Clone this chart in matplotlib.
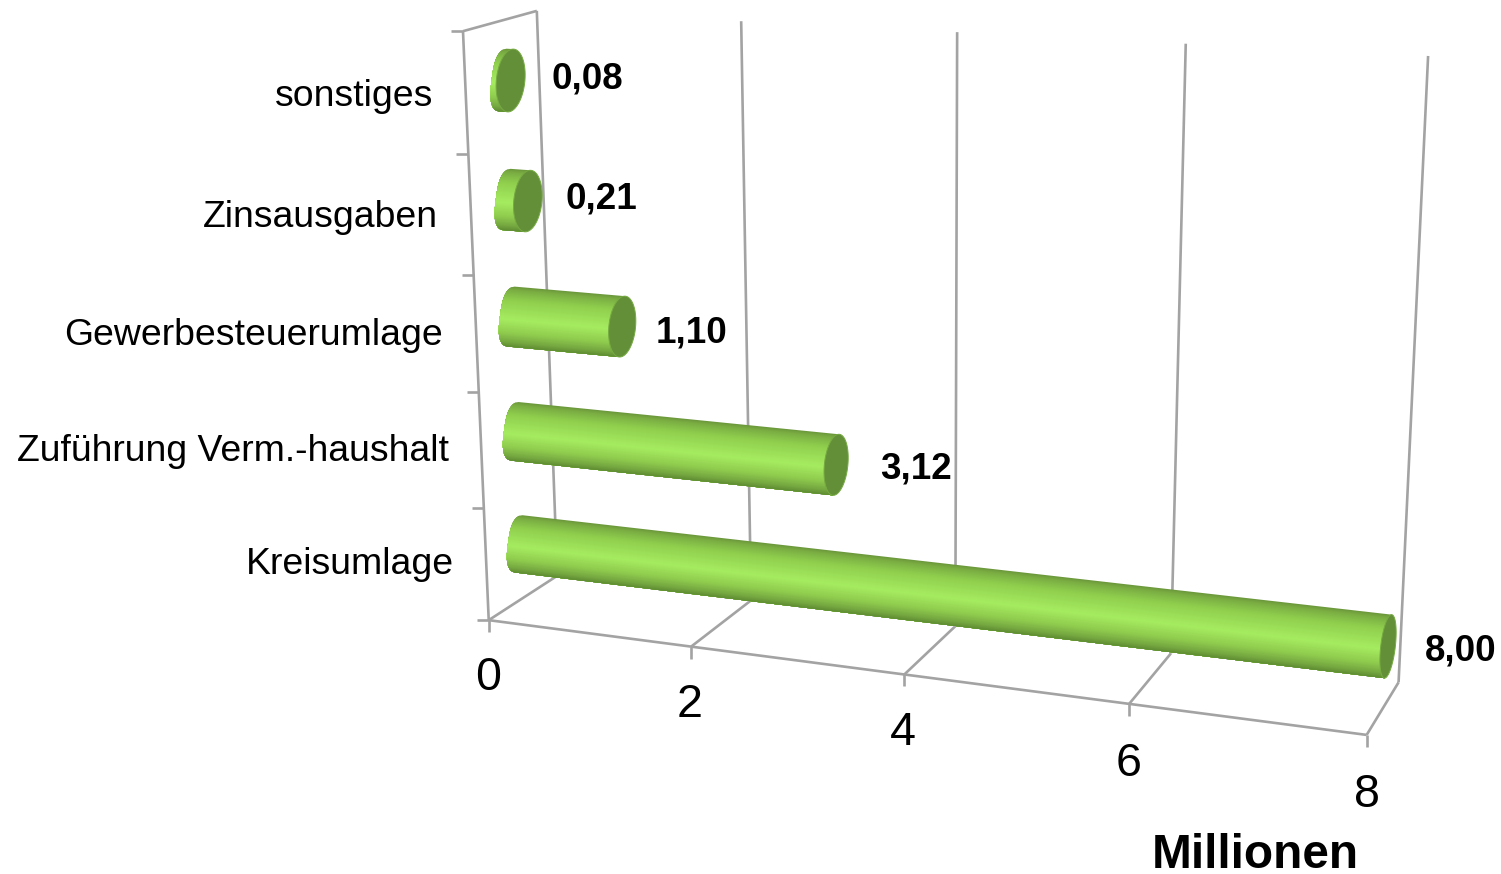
import numpy as np
import matplotlib
matplotlib.use("Agg")
import matplotlib.pyplot as plt
from matplotlib.transforms import Transform
from matplotlib.patches import Polygon
from matplotlib.colors import LinearSegmentedColormap

plt.rcParams['font.family'] = ['Liberation Sans', 'DejaVu Sans']

# ---- data ----
categories = ["Kreisumlage", "Zuführung Verm.-haushalt", "Gewerbesteuerumlage", "Zinsausgaben", "sonstiges"]
values = [8.00, 3.12, 1.10, 0.21, 0.08]
value_labels = ["8,00", "3,12", "1,10", "0,21", "0,08"]
x_ticks = [0, 2, 4, 6, 8]
x_tick_labels = ["0", "2", "4", "6", "8"]
axis_title = "Millionen"

# ---- layout: label anchors in image pixels (right edge / centre, baseline) ----
cat_label_pos = [(454, 574), (449, 461), (443, 345), (438, 227), (433, 106)]
val_label_pos = [(1461, 660), (916, 479), (692, 343), (601, 209), (587, 89)]
tick_label_pos = [(488, 690), (690, 717), (903, 745), (1129, 776), (1367, 807)]
title_pos = (1255, 868)

# plane anchors: (value, category position) -> image pixel
CLOW, CHIGH = -0.5, 4.5
mid_anchor = [((0, 0), (519, 543)), ((8, 0), (1388, 647)), ((3.12, 1), (836, 465)), ((0, 1), (513.5, 431)),
              ((1.1, 2), (625, 327)), ((0, 2), (509, 317)), ((0.21, 3), (527, 202)), ((0, 3), (506, 200)),
              ((0.08, 4), (511, 80)), ((0, 4), (503, 80)), ((8, 4), (1409, 135))]
back_anchor = [((0, CLOW), (557, 575)), ((2, CLOW), (752, 602)), ((4, CLOW), (957, 627)), ((6, CLOW), (1165, 653)),
               ((8, CLOW), (1402, 681)), ((0, CHIGH), (537, 11)), ((2, CHIGH), (741, 20)), ((4, CHIGH), (957, 32)),
               ((6, CHIGH), (1186, 44)), ((8, CHIGH), (1428, 57))]
front_anchor = [((0, CLOW), (489, 620)), ((2, CLOW), (691, 647)), ((4, CLOW), (904, 675)), ((6, CLOW), (1129, 703)),
                ((8, CLOW), (1367, 735)), ((0, CHIGH), (463, 31)), ((8, CHIGH), (1394, 83))]


def fit_h(anchor):
    rows = []
    for (u, w), (px, py) in anchor:
        rows.append([u, w, 1, 0, 0, 0, -px * u, -px * w, -px])
        rows.append([0, 0, 0, u, w, 1, -py * u, -py * w, -py])
    _, _, vt = np.linalg.svd(np.array(rows, float))
    return vt[-1].reshape(3, 3)


class Persp(Transform):
    input_dims = output_dims = 2
    has_inverse = False
    is_separable = False

    def __init__(self, anchor):
        super().__init__()
        self.h = fit_h(anchor)

    def transform_non_affine(self, xy):
        xy = np.asarray(xy, float)
        q = np.c_[xy, np.ones(len(xy))] @ self.h.T
        return q[:, :2] / q[:, 2:3]


W, H = 1501, 874
fig = plt.figure(figsize=(W / 100, H / 100), dpi=100)
ax = fig.add_axes([0, 0, 1, 1])
ax.set_xlim(0, W)
ax.set_ylim(H, 0)
ax.autoscale(False)
ax.axis('off')

T_mid = Persp(mid_anchor) + ax.transData
T_back = Persp(back_anchor) + ax.transData
T_front = Persp(front_anchor) + ax.transData

GRID = '#a3a3a3'
LW = 1.9
line_kw = dict(color=GRID, lw=LW, solid_capstyle='butt', zorder=1)

# back wall gridlines
for v in x_ticks:
    ax.plot([v, v], [CLOW, CHIGH], transform=T_back, **line_kw)

# left wall + front floor edge + floor lines
ax.plot([0, 0], [CLOW, CHIGH], transform=T_front, **line_kw)
ax.plot([0, 8], [CLOW, CLOW], transform=T_front, **line_kw)
fp, bp = Persp(front_anchor), Persp(back_anchor)
for v in x_ticks:
    a = fp.transform_non_affine([[v, CLOW]])[0]
    b = bp.transform_non_affine([[v, CLOW]])[0]
    ax.plot([a[0], b[0]], [a[1], b[1]], **line_kw)
a = fp.transform_non_affine([[0, CHIGH]])[0]
b = bp.transform_non_affine([[0, CHIGH]])[0]
ax.plot([a[0], b[0]], [a[1], b[1]], **line_kw)

# ticks
for v in x_ticks:
    ax.plot([v], [CLOW], transform=T_front, marker=3, ms=8.5, mew=LW, color=GRID, zorder=1, ls='none')
for c in np.arange(CLOW, CHIGH + 0.5):
    ax.plot([0], [c], transform=T_front, marker=0, ms=8.5, mew=LW, color=GRID, zorder=1, ls='none')

# cylinders: painter's-order bands so that no seams show between them
cmap = LinearSegmentedColormap.from_list('cyl', [
    (0.00, '#6a963a'), (0.05, '#79ab42'), (0.22, '#8fce4d'), (0.55, '#a6ec60'),
    (0.78, '#8fcb4e'), (0.93, '#74a640'), (1.00, '#5f8c33')])
RADIUS = 0.262
N = 60
for i, val in enumerate(values):
    e0, shear0 = 0.105, 0.05
    e1, shear1 = 0.14 - 0.01 * val, 0.04 - 0.0025 * val
    s_all = np.linspace(1, -1, N + 1)
    for k in range(N):
        s = s_all[k:]
        col = cmap((k + 0.5) / N)
        left = shear0 * s - e0 * np.sqrt(np.clip(1 - np.abs(s) ** 3, 0, 1))
        right = val + shear1 * s
        pts = np.r_[np.c_[right, i + RADIUS * s], np.c_[left, i + RADIUS * s][::-1]]
        ax.add_patch(Polygon(pts, closed=True, fc=col, ec='none', lw=0, transform=T_mid, zorder=3 + k * 1e-3))
    t = np.linspace(0, 2 * np.pi, 80)
    cap = np.c_[val + e1 * np.cos(t) + shear1 * np.sin(t), i + RADIUS * np.sin(t)]
    ax.add_patch(Polygon(cap, closed=True, fc='#628f38', ec='#76aa42', lw=0.7, transform=T_mid, zorder=4))

# text
for name, (x, y) in zip(categories, cat_label_pos):
    ax.text(x, y, name, ha='right', va='baseline', fontsize=26.9, color='black')
for lab, (x, y) in zip(value_labels, val_label_pos):
    ax.text(x, y, lab, ha='center', va='baseline', fontsize=26.5, fontweight='bold', color='black')
for lab, (x, y) in zip(x_tick_labels, tick_label_pos):
    ax.text(x, y, lab, ha='center', va='baseline', fontsize=33.6, color='black')
ax.text(title_pos[0], title_pos[1], axis_title, ha='center', va='baseline', fontsize=34.4,
        fontweight='bold', color='black')

fig.savefig('out.png', dpi=100, facecolor='white')
